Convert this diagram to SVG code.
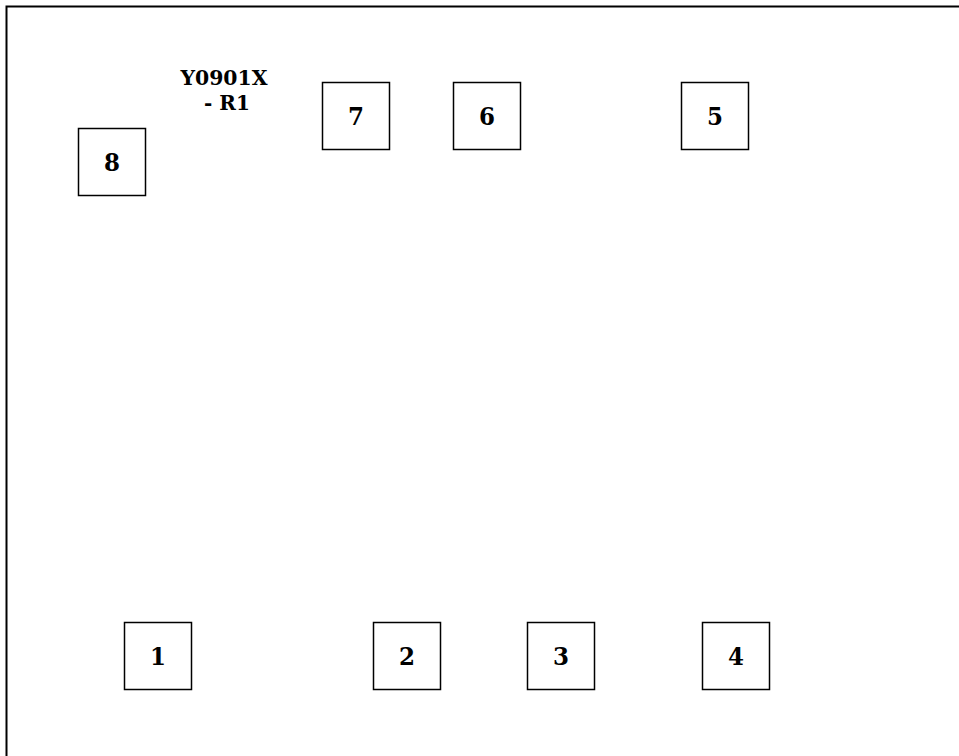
<svg xmlns="http://www.w3.org/2000/svg" width="959" height="756" viewBox="0 0 959 756">
<style>
.box{fill:#fff;stroke:#000;stroke-width:1.5}
.num{font-family:"DejaVu Serif","Liberation Serif",serif;font-weight:bold;font-size:25px;text-anchor:middle;fill:#000}
.lbl{font-family:"DejaVu Serif","Liberation Serif",serif;font-weight:bold;font-size:20px;text-anchor:middle;fill:#000}
</style>
<rect x="0" y="0" width="959" height="756" fill="#fff"/>
<rect x="6.5" y="6.5" width="1000" height="800" fill="none" stroke="#000" stroke-width="2"/>
<g id="label"><text class="lbl" x="224" y="85" textLength="87" lengthAdjust="spacingAndGlyphs">Y0901X</text><text class="lbl" x="227" y="110">- R1</text></g>
<g id="n8"><rect class="box" x="78.5" y="128.5" width="67" height="67"/><text class="num" x="112" y="170.5" textLength="16" lengthAdjust="spacingAndGlyphs">8</text></g>
<g id="n7"><rect class="box" x="322.5" y="82.5" width="67" height="67"/><text class="num" x="356" y="124.5" textLength="16" lengthAdjust="spacingAndGlyphs">7</text></g>
<g id="n6"><rect class="box" x="453.5" y="82.5" width="67" height="67"/><text class="num" x="487" y="124.5" textLength="16" lengthAdjust="spacingAndGlyphs">6</text></g>
<g id="n5"><rect class="box" x="681.5" y="82.5" width="67" height="67"/><text class="num" x="715" y="124.5" textLength="16" lengthAdjust="spacingAndGlyphs">5</text></g>
<g id="n1"><rect class="box" x="124.5" y="622.5" width="67" height="67"/><text class="num" x="158" y="664.5" textLength="16" lengthAdjust="spacingAndGlyphs">1</text></g>
<g id="n2"><rect class="box" x="373.5" y="622.5" width="67" height="67"/><text class="num" x="407" y="664.5" textLength="16" lengthAdjust="spacingAndGlyphs">2</text></g>
<g id="n3"><rect class="box" x="527.5" y="622.5" width="67" height="67"/><text class="num" x="561" y="664.5" textLength="16" lengthAdjust="spacingAndGlyphs">3</text></g>
<g id="n4"><rect class="box" x="702.5" y="622.5" width="67" height="67"/><text class="num" x="736" y="664.5" textLength="16" lengthAdjust="spacingAndGlyphs">4</text></g>
<g id="connectors"></g>
</svg>
